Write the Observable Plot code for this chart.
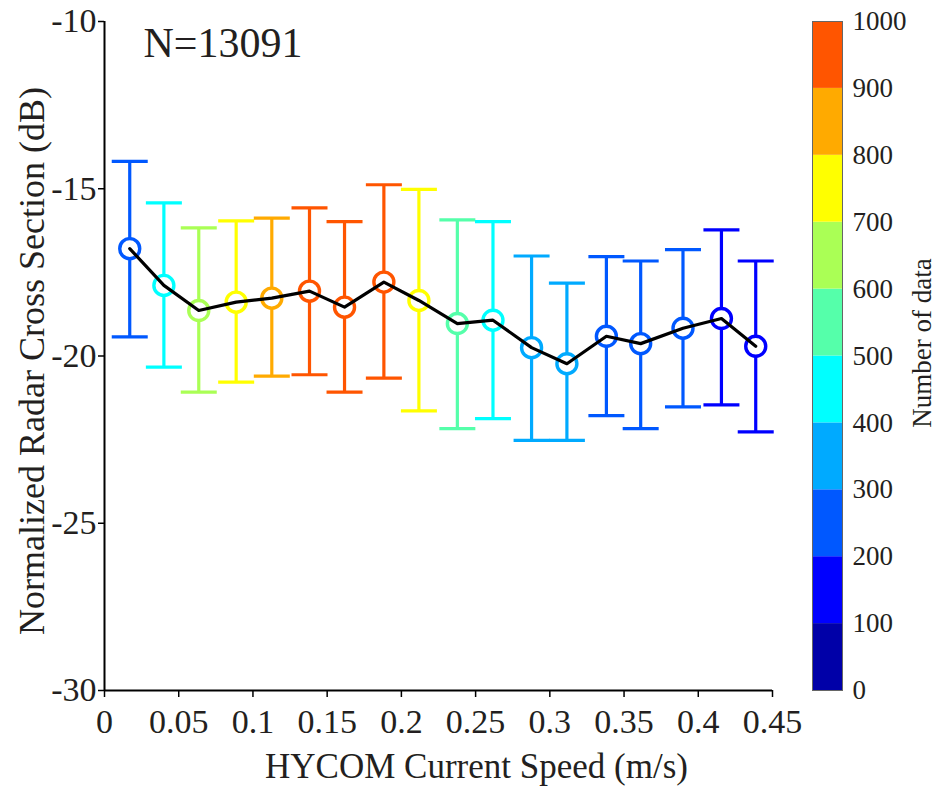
<!DOCTYPE html>
<html>
<head>
<meta charset="utf-8">
<script src="https://cdn.jsdelivr.net/npm/d3@7"></script>
<script src="https://cdn.jsdelivr.net/npm/@observablehq/plot@0.6"></script>
<style>
  html, body { margin: 0; padding: 0; background: #ffffff; }
  #wrap { position: relative; width: 947px; height: 791px; }
  #wrap svg { overflow: visible; }
  #wrap svg, #wrap svg text { font-family: 'Liberation Serif', 'Times New Roman', serif !important; }
  #cbar { position: absolute; left: 772px; top: 0; }
</style>
</head>
<body>
<div id="wrap"><div id="main"></div><div id="cbar"></div></div>
<script>
// ---- data ----
const speeds = [0.017, 0.040, 0.0635, 0.0887, 0.1127, 0.1381, 0.1617, 0.1882, 0.2118,
                0.2377, 0.2617, 0.2877, 0.3115, 0.3381, 0.3612, 0.3897, 0.4156, 0.4387];
const meanNRCS = [-16.79, -17.89, -18.64, -18.39, -18.27, -18.06, -18.54, -17.79, -18.34,
                  -19.03, -18.93, -19.75, -20.23, -19.41, -19.63, -19.17, -18.88, -19.71];
const upperNRCS = [-14.18, -15.42, -16.17, -15.96, -15.88, -15.57, -15.98, -14.88, -15.02,
                   -15.93, -15.98, -17.01, -17.82, -17.03, -17.16, -16.82, -16.23, -17.16];
const lowerNRCS = [-19.43, -20.33, -21.08, -20.78, -20.60, -20.56, -21.08, -20.66, -21.64,
                   -22.17, -21.87, -22.52, -22.52, -21.78, -22.17, -21.52, -21.46, -22.27];
const counts = [250, 450, 650, 750, 850, 950, 950, 950, 750,
                550, 450, 350, 350, 250, 250, 250, 150, 150];
const totalN = "N=13091";

const xTicks = [0, 0.05, 0.1, 0.15, 0.2, 0.25, 0.3, 0.35, 0.4, 0.45];
const xTickLabels = ["0", "0.05", "0.1", "0.15", "0.2", "0.25", "0.3", "0.35", "0.4", "0.45"];
const yTicks = [-10, -15, -20, -25, -30];
const yTickLabels = ["-10", "-15", "-20", "-25", "-30"];

const binLow  = [0, 100, 200, 300, 400, 500, 600, 700, 800, 900];
const binHigh = [100, 200, 300, 400, 500, 600, 700, 800, 900, 1000];
const thresholds = [100, 200, 300, 400, 500, 600, 700, 800, 900];
const binColors = ["#0000a8", "#0000ff", "#0058ff", "#00aaff", "#00ffff",
                   "#55ffaa", "#aaff55", "#ffff00", "#ffaa00", "#ff5500"];
const cbTicks = [0, 100, 200, 300, 400, 500, 600, 700, 800, 900, 1000];

const xLabel = "HYCOM Current Speed (m/s)";
const yLabel = "Normalized Radar Cross Section (dB)";
const cLabel = "Number of data";

// ---- build ----
const rows = speeds.map((s, i) => ({x: s, m: meanNRCS[i], hi: upperNRCS[i], lo: lowerNRCS[i], n: counts[i]}));
const bins = binLow.map((lo, i) => ({lo, hi: binHigh[i]}));
const colorSpec = {type: "threshold", domain: thresholds, range: binColors};

const FONT = "'Liberation Serif', 'Times New Roman', serif";
const INK = "#231f20";

const capSymbol = {
  draw(ctx) { ctx.moveTo(-18, 0); ctx.lineTo(18, 0); }
};

const main = Plot.plot({
  width: 947,
  height: 791,
  marginLeft: 104,
  marginRight: 175,
  marginTop: 21,
  marginBottom: 101,
  style: {fontFamily: FONT, background: "transparent", color: INK, overflow: "visible"},
  x: {domain: [0, 0.45]},
  y: {domain: [-30, -10]},
  color: colorSpec,
  marks: [
    Plot.ruleX(rows, {x: "x", y1: "lo", y2: "hi", stroke: "n", strokeWidth: 3.2}),
    Plot.dot(rows, {x: "x", y: "hi", symbol: capSymbol, r: 5, stroke: "n", strokeWidth: 3.2, fill: "none"}),
    Plot.dot(rows, {x: "x", y: "lo", symbol: capSymbol, r: 5, stroke: "n", strokeWidth: 3.2, fill: "none"}),
    Plot.dot(rows, {x: "x", y: "m", r: 10, stroke: "n", strokeWidth: 3.4, fill: "white"}),
    Plot.line(rows, {x: "x", y: "m", stroke: "black", strokeWidth: 3.2}),
    Plot.ruleX([0], {stroke: "black", strokeWidth: 2}),
    Plot.ruleY([-30], {stroke: "black", strokeWidth: 2}),
    Plot.axisX({ticks: xTicks, tickFormat: d => xTickLabels[xTicks.indexOf(d)], tickSize: 7, tickPadding: 11,
                fontSize: 34, fontFamily: FONT, label: null, stroke: "black", strokeWidth: 1.5, fill: INK}),
    Plot.axisY({ticks: yTicks, tickFormat: d => yTickLabels[yTicks.indexOf(d)], tickSize: 6, tickPadding: 2,
                fontSize: 34, fontFamily: FONT, label: null, stroke: "black", strokeWidth: 1.5, fill: INK}),
    Plot.text([totalN], {frameAnchor: "top-left", textAnchor: "start", lineAnchor: "middle",
                         dx: 39, dy: 22, fontSize: 42, fontFamily: FONT, fill: INK}),
    Plot.text([xLabel], {frameAnchor: "bottom", textAnchor: "middle", lineAnchor: "middle",
                         dx: 38, dy: 76, fontSize: 35, fontFamily: FONT, fill: INK}),
    Plot.text([yLabel], {frameAnchor: "left", textAnchor: "middle", lineAnchor: "middle", rotate: -90,
                         dx: -72, dy: 5, fontSize: 36, fontFamily: FONT, fill: INK})
  ]
});
document.getElementById("main").appendChild(main);

const cbar = Plot.plot({
  width: 175,
  height: 791,
  marginLeft: 40,
  marginRight: 105,
  marginTop: 21,
  marginBottom: 101,
  style: {fontFamily: FONT, background: "transparent", color: INK, overflow: "visible"},
  x: {domain: [0, 1], axis: null},
  y: {domain: [0, 1000]},
  color: colorSpec,
  marks: [
    Plot.rect(bins, {y1: "lo", y2: "hi", fill: "lo"}),
    Plot.frame({stroke: "#666", strokeWidth: 1}),
    Plot.axisY({anchor: "right", ticks: cbTicks, tickSize: 0, tickPadding: 10, fontSize: 27, fontFamily: FONT,
                label: null, fill: INK, tickFormat: d => String(d)}),
    Plot.text([cLabel], {frameAnchor: "right", textAnchor: "middle", lineAnchor: "middle", rotate: -90,
                         dx: 80, dy: -13, fontSize: 27, fontFamily: FONT, fill: INK})
  ]
});
document.getElementById("cbar").appendChild(cbar);
</script>
</body>
</html>
